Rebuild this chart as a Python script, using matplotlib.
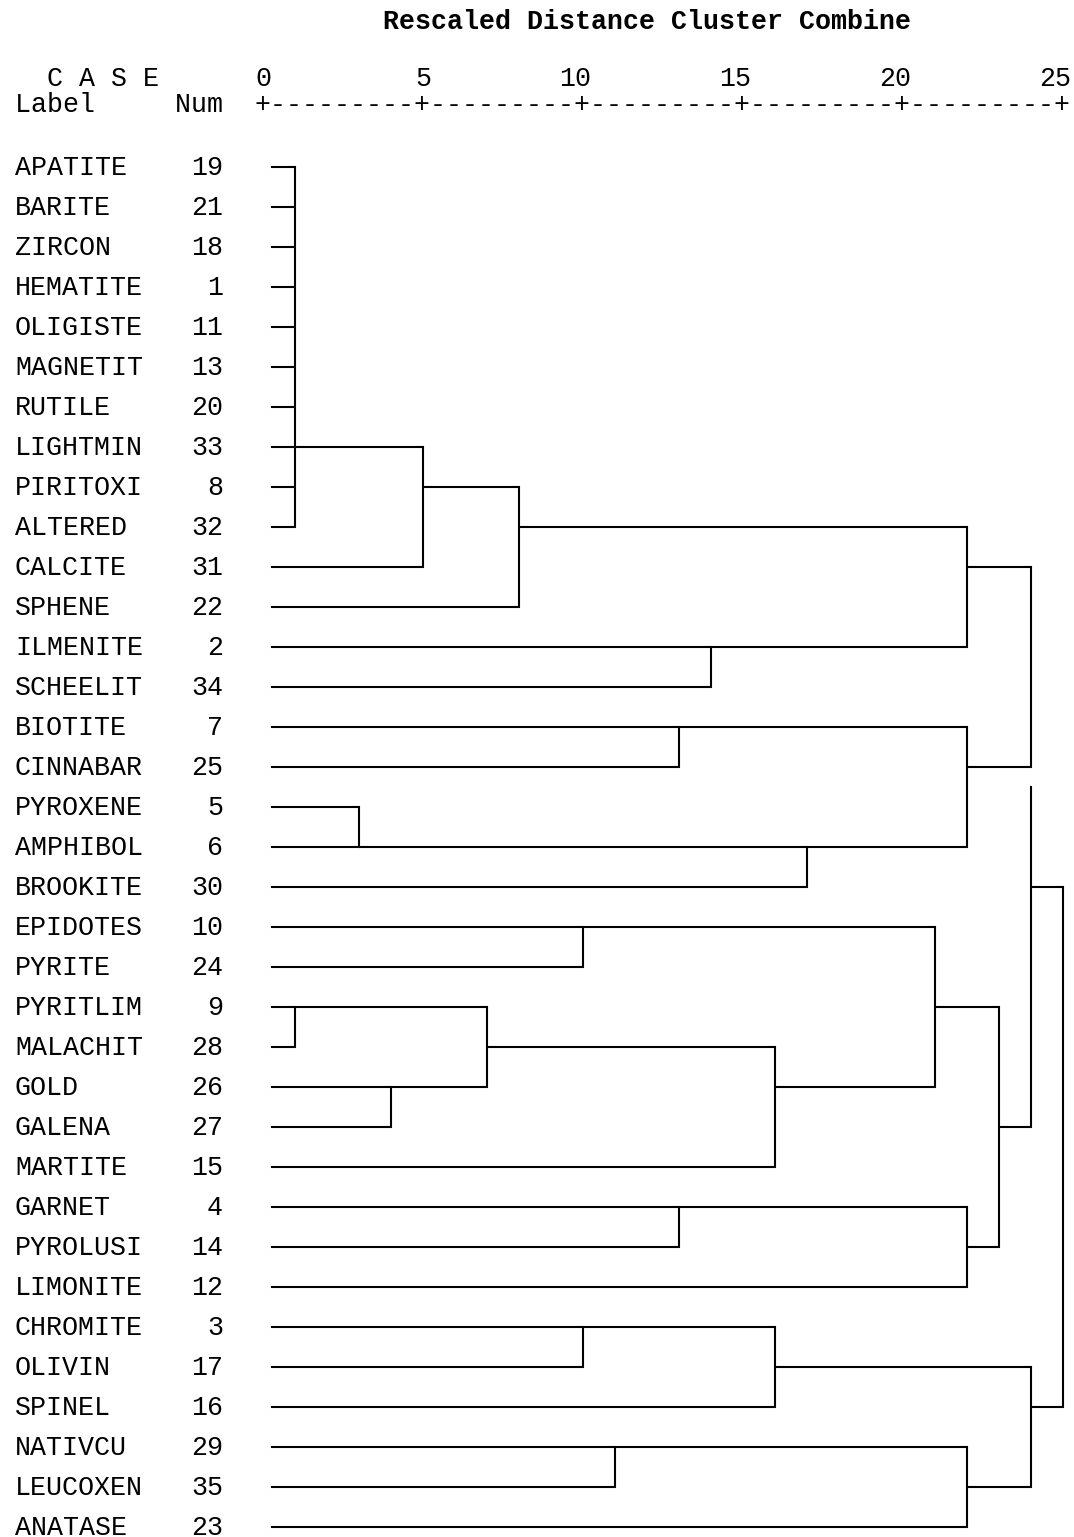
import matplotlib
matplotlib.use("Agg")
import matplotlib.pyplot as plt

# case labels and numbers, in dendrogram order
labels = ["APATITE", "BARITE", "ZIRCON", "HEMATITE", "OLIGISTE", "MAGNETIT",
          "RUTILE", "LIGHTMIN", "PIRITOXI", "ALTERED", "CALCITE", "SPHENE",
          "ILMENITE", "SCHEELIT", "BIOTITE", "CINNABAR", "PYROXENE", "AMPHIBOL",
          "BROOKITE", "EPIDOTES", "PYRITE", "PYRITLIM", "MALACHIT", "GOLD",
          "GALENA", "MARTITE", "GARNET", "PYROLUSI", "LIMONITE", "CHROMITE",
          "OLIVIN", "SPINEL", "NATIVCU", "LEUCOXEN", "ANATASE"]
case_nums = [19, 21, 18, 1, 11, 13, 20, 33, 8, 32, 31, 22, 2, 34, 7, 25, 5, 6,
             30, 10, 24, 9, 28, 26, 27, 15, 4, 14, 12, 3, 17, 16, 29, 35, 23]

# merges: (children, rescaled distance, row the joined line continues on)
# children are leaf row indices (int) or earlier merges ("M<k>")
merges = [
    (list(range(10)), 1, 7),        # M0
    (["M0", 10], 5, 8),             # M1
    (["M1", 11], 8, 9),             # M2
    ([12, 13], 14, 12),             # M3
    (["M2", "M3"], 22, 10),         # M4
    ([14, 15], 13, 14),             # M5
    ([16, 17], 3, 17),              # M6
    (["M6", 18], 17, 17),           # M7
    (["M5", "M7"], 22, 15),         # M8
    (["M4", "M8"], 24, 15.5),       # M9
    ([19, 20], 10, 19),             # M10
    ([21, 22], 1, 21),              # M11
    ([23, 24], 4, 23),              # M12
    (["M11", "M12"], 7, 22),        # M13
    (["M13", 25], 16, 23),          # M14
    (["M10", "M14"], 21, 21),       # M15
    ([26, 27], 13, 26),             # M16
    (["M16", 28], 22, 27),          # M17
    (["M15", "M17"], 23, 24),       # M18
    (["M9", "M18"], 24, 18),        # M19
    ([29, 30], 10, 29),             # M20
    (["M20", 31], 16, 30),          # M21
    ([32, 33], 11, 32),             # M22
    (["M22", 34], 22, 33),          # M23
    (["M21", "M23"], 24, 31),       # M24
    (["M19", "M24"], 25, 24.5),     # M25
]
ticks = [0, 5, 10, 15, 20, 25]

FONT = "Liberation Mono"
FS = 19.2
LW = 1.5
LEAF_START = 0.25

fig = plt.figure(figsize=(10.74, 15.37), dpi=100)
ax = fig.add_axes([0, 0, 1, 1])
# 32 px per distance unit, 40 px per row
ax.set_xlim(-263 / 32, (1074 - 263) / 32)
ax.set_ylim((1537 - 167) / 40, -167 / 40)
ax.axis("off")

# node positions: (row, distance)
pos = {i: (i, LEAF_START) for i in range(len(labels))}
for k, (children, dist, out_row) in enumerate(merges):
    rows = []
    for c in children:
        r, x0 = pos[c]
        rows.append(r)
        if x0 < dist:
            ax.plot([x0, dist], [r, r], color="black", lw=LW, solid_capstyle="butt")
    ax.plot([dist, dist], [min(rows), max(rows)], color="black", lw=LW,
            solid_capstyle="projecting")
    pos["M%d" % k] = (out_row, dist)

# case labels and numbers
for i, (lab, num) in enumerate(zip(labels, case_nums)):
    ax.text(-7.75, i + 0.19, lab, family=FONT, fontsize=FS, ha="left", va="baseline")
    ax.text(-1.25, i + 0.19, str(num), family=FONT, fontsize=FS, ha="right", va="baseline")

# header
ax.text(3.75, -3.45, "Rescaled Distance Cluster Combine", family=FONT,
        fontsize=FS, fontweight="bold", ha="left", va="baseline")
ax.text(-7.75, -2.02, "  C A S E", family=FONT, fontsize=FS, ha="left", va="baseline")
for t in ticks:
    ax.text(t + 0.25, -2.02, str(t), family=FONT, fontsize=FS, ha="right", va="baseline")
ax.text(-7.75, -1.38, "Label     Num", family=FONT, fontsize=FS, ha="left", va="baseline")
ruler = "+" + "+".join(["-" * 9] * 5) + "+"
ax.text(-0.25, -1.38, ruler, family=FONT, fontsize=FS, ha="left", va="baseline")

fig.savefig("out.png", dpi=100, facecolor="white")
